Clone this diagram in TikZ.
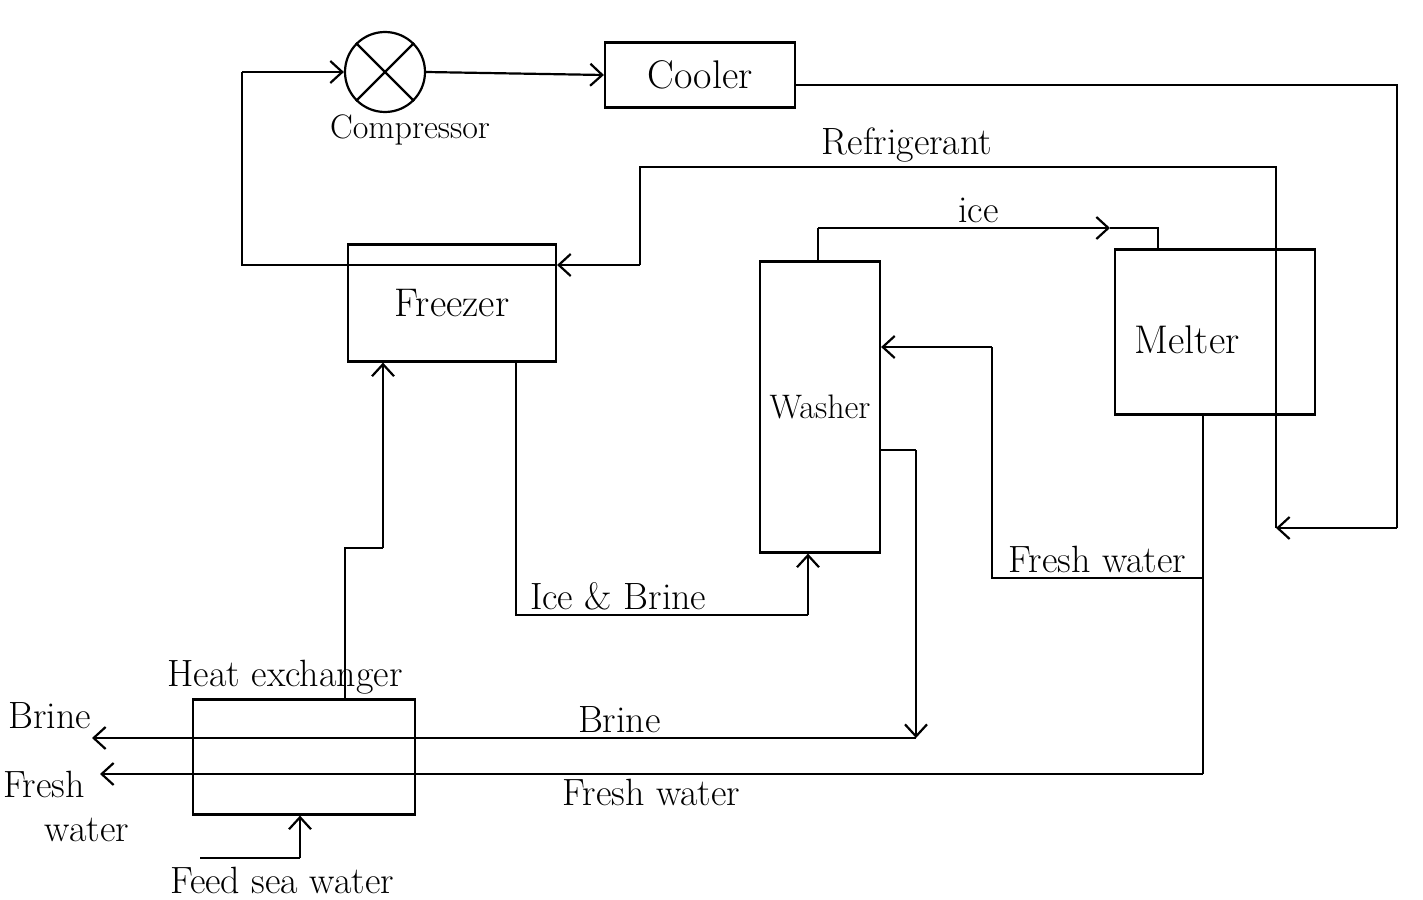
\documentclass[tikz,border=0pt]{standalone}
\usetikzlibrary{arrows.meta}
\begin{document}
\begin{tikzpicture}[x=0.5pt,y=-0.5pt,line width=1.1pt,font=\fontsize{20}{24}\selectfont,
box/.style={draw,inner sep=0pt},lbl/.style={font=\fontsize{19}{22}\selectfont,inner sep=2pt},
flow/.style={-{Straight Barb[length=6pt,width=11pt,line width=1.1pt]}}]
\useasboundingbox(0,0)rectangle(1423,899);
\node[draw,circle,minimum size=40pt,inner sep=0pt](comp)at(385,72){};
\draw(comp.north west)--(comp.south east)(comp.south west)--(comp.north east);
\node[lbl,font=\fontsize{17}{20}\selectfont](compl)at(410,130){Compressor};
\foreach \n/\x/\y/\w/\h/\t in {cool/700/75/95/32.5/Cooler,frz/452/303/104/58.5/Freezer,wash/820/407/60/145.5/{\fontsize{17}{20}\selectfont Washer},melt/1215/332/100/82.5/{},hx/304/757/111/57.5/{}}
\node[box,minimum width=\w pt,minimum height=\h pt](\n)at(\x,\y){\t};
\node(meltl)at([xshift=-14pt,yshift=-4pt]melt){Melter};
\node[lbl](hxl)at(285,677){Heat exchanger};
\node[lbl](feedl)at(282,880){Feed sea water};
\node[lbl](brl)at(50,716){Brine};
\node[lbl,align=left](fwl)at(66,806){Fresh\\\hspace{1.1em}water};
\coordinate(c1)at(242,72);\coordinate(c2)at(242,265);\coordinate(r4)at(640,265);
\coordinate(r1)at(1397,85);\coordinate(r2)at(1397,528);\coordinate(r3)at(1276,528);
\coordinate(r5)at(1276,167);\coordinate(r6)at(640,167);
\draw[flow](comp.east)--(cool.west);
\draw([yshift=-5pt]cool.east)--(r1)--(r2);\draw[flow](r2)--(r3);
\draw(r3)--(r5)--node[lbl,above,pos=.58]{Refrigerant}(r6)--(r4);
\draw[flow](r4)--(frz.east|-r4);
\draw(frz.east|-r4)--(c2)--(c1);\draw[flow](c1)--(comp.west);
\coordinate(i1)at(818,228);\coordinate(i3)at(1110,228);\coordinate(i2)at(1158,228);
\draw(wash.north-|i1)--(i1);\draw[flow](i1)--node[lbl,above,pos=.55]{ice}(i3);
\draw(i3)--(i2)--(melt.north-|i2);
\coordinate(f1)at(1203,578);\coordinate(f2)at(1203,774);\coordinate(f3)at(992,578);
\coordinate(f4)at(992,347);\coordinate(f5)at(100,774);
\draw(melt.south-|f1)--(f2);
\draw(f1)--node[lbl,above]{Fresh water}(f3)--(f4);\draw[flow](f4)--(wash.east|-f4);
\draw[flow](f2)--node[lbl,below,pos=.5]{Fresh water}(f5);
\coordinate(b1)at(916,450);\coordinate(b2)at(916,738);\coordinate(b3)at(92,738);
\draw(wash.east|-b1)--(b1);\draw[flow](b1)--(b2);
\draw[flow](b2)--node[lbl,above,pos=.36]{Brine}(b3);
\coordinate(k1)at(516,615);\coordinate(k2)at(808,615);
\draw(frz.south-|k1)--(k1)--node[lbl,above,pos=.35]{Ice \& Brine}(k2);\draw[flow](k2)--(wash.south-|k2);
\coordinate(h1)at(345,548);\coordinate(h2)at(383,548);
\draw(hx.north-|h1)--(h1)--(h2);\draw[flow](h2)--(frz.south-|h2);
\coordinate(s1)at(200,858);\coordinate(s2)at(300,858);
\draw(s1)--(s2);\draw[flow](s2)--(hx.south-|s2);
\end{tikzpicture}
\end{document}
